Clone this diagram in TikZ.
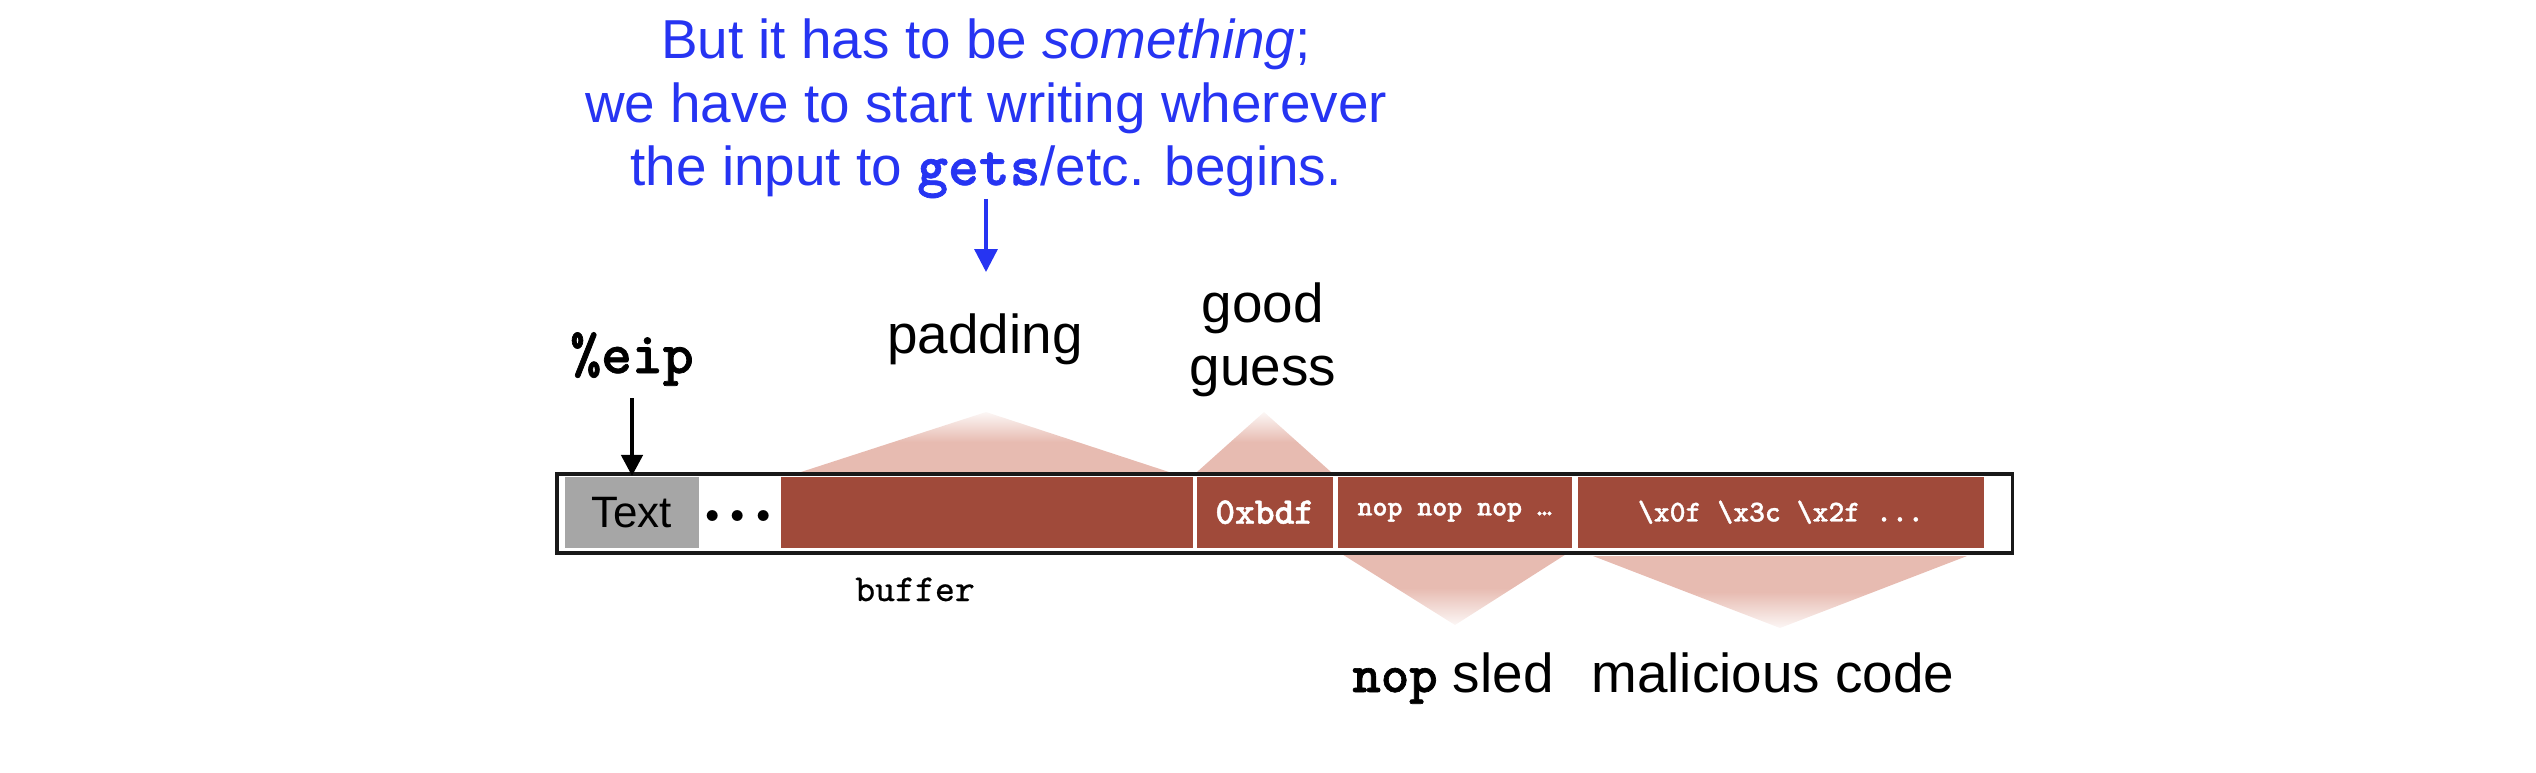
\documentclass[tikz,border=0pt]{standalone}
\usepackage{fontspec}
\setmainfont{Liberation Sans}
\setsansfont{Liberation Sans}
\newfontfamily\courb[FakeBold=1.2]{lmmonolt10-bold.otf}
\newfontfamily\cour[FakeBold=0.6]{lmmono10-regular.otf}
\newfontfamily\lmbold{lmroman10-bold.otf}
\usetikzlibrary{arrows.meta}
\definecolor{brick}{RGB}{160,74,58}
\definecolor{tri}{RGB}{231,187,177}
\definecolor{notecol}{RGB}{38,52,242}
\definecolor{cellgray}{RGB}{166,166,166}
\tikzset{
  lbl/.style={font=\fontsize{15.6}{18}\selectfont, inner sep=0pt, anchor=base},
  note/.style={lbl, text=notecol},
  cell/.style={fill=brick, inner sep=0pt, anchor=north west, minimum height=0.71cm, text=white},
  uptri/.style={top color=tri!12!white, bottom color=tri, middle color=tri},
  downtri/.style={top color=tri, bottom color=tri!12!white, middle color=tri},
  stackbox/.style={draw=black!90, fill=white, line width=1pt, inner sep=0pt, anchor=north west},
}
\begin{document}
\begin{tikzpicture}[x=0.01cm,y=-0.01cm]
\useasboundingbox (0,0) rectangle (2536,772);

% highlight triangles (behind the stack)
\shade[uptri] (801,472) -- (986,412) -- (1169,472) -- cycle;
\shade[uptri] (1197,472) -- (1264,412) -- (1331,472) -- cycle;
\shade[downtri] (1337,551) -- (1571,551) -- (1455,625) -- cycle;
\shade[downtri] (1593,556) -- (1967,556) -- (1780,628) -- cycle;

% the stack
\fill[black!22] (558,476) rectangle (2013,555);
\node[stackbox, minimum width=14.55cm, minimum height=0.79cm] (stack) at (555,472) {};
\node[cell, fill=cellgray, text=black, font=\fontsize{12.5}{14}\selectfont, minimum width=1.34cm] (txt) at (564,476) {Text};
\node[lbl, font=\lmbold\fontsize{20}{22}\selectfont] (dots) at (738,521) {.\hspace{0.8pt}.\hspace{0.8pt}.};
\node[cell, minimum width=4.12cm] (pad) at (780,476) {};
\node[cell, minimum width=1.36cm, font=\courb\fontsize{10.7}{12}\selectfont] (guess) at (1196,476) {0xbdf};
\node[cell, minimum width=2.34cm, font=\courb\fontsize{8.1}{10}\selectfont] (sled) at (1337,476) {nop nop nop …};
\node[cell, minimum width=4.06cm, font=\courb\fontsize{8.6}{10}\selectfont] (code) at (1577,476) {\textbackslash x0f \textbackslash x3c \textbackslash x2f ...};

% labels
\node[lbl] (padlbl) at (985,353) {padding};
\node[lbl] (good1) at (1263,322) {good};
\node[lbl] (good2) at (1263,385) {guess};
\node[lbl, font=\courb\fontsize{16.7}{18}\selectfont] (eip) at (632,373) {\%eip};
\node[lbl, font=\cour\fontsize{10.8}{12}\selectfont] (buf) at (915,601) {buffer};
\node[lbl] (sledlbl) at (1453,692) {{\courb\fontsize{15.4}{17}\selectfont nop} sled};
\node[lbl] (codelbl) at (1773,692) {malicious code};

% note
\node[note] (n1) at (986,58) {But it has to be \textit{something};};
\node[note] (n2) at (986,122) {we have to start writing wherever};
\node[note] (n3) at (986,185) {the input to {\courb\fontsize{16.7}{18}\selectfont gets}/etc. begins.};

% arrows
\coordinate (padtop) at (986,272);
\draw[notecol, line width=0.95pt, -{Triangle[length=6.5pt,width=6.5pt]}] (n3.south) -- (padtop);
\draw[black, line width=1.25pt, shorten <=0.12cm, -{Triangle[length=6pt,width=6pt]}] (eip.south) -- (eip.south |- txt.north);
\end{tikzpicture}
\end{document}
